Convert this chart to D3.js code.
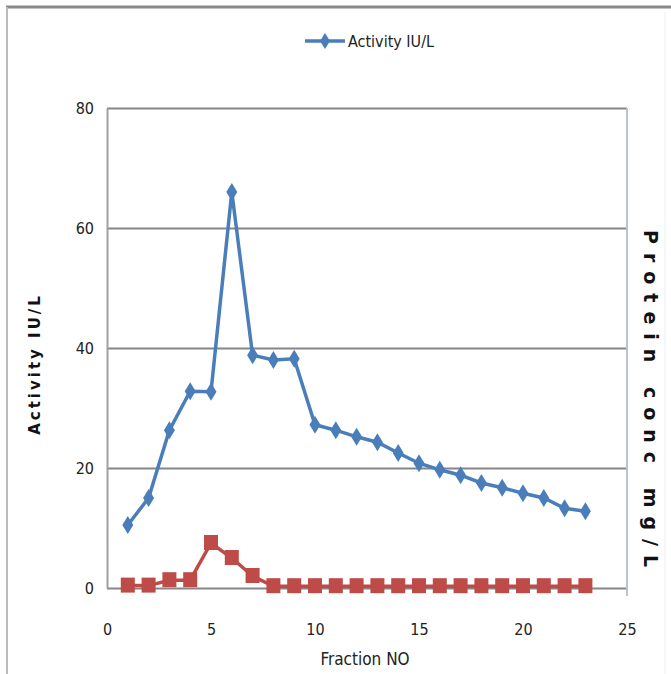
<!DOCTYPE html>
<html>
<head>
    <script src="https://d3js.org/d3.v7.min.js"></script>
    <style>
        body { margin: 0; background: #fff; }
        svg { display: block; }
        .tick text { font-family: "DejaVu Sans Condensed", "Liberation Sans Narrow", sans-serif; font-stretch: condensed; font-size: 16px; fill: #222; }
        .axis-title { font-family: "DejaVu Sans", sans-serif; font-weight: bold; fill: #111; }
        .legend-text, .x-title { font-family: "DejaVu Sans Condensed", "Liberation Sans Narrow", sans-serif; font-stretch: condensed; font-size: 16px; fill: #222; }
    </style>
</head>
<body>
<svg width="671" height="674"></svg>
<script>
    // fraction numbers
    var fractions = [1, 2, 3, 4, 5, 6, 7, 8, 9, 10, 11, 12, 13, 14, 15, 16, 17, 18, 19, 20, 21, 22, 23];
    // Activity IU/L (blue)
    var activity = [10.5, 15, 26.3, 32.8, 32.7, 66, 38.8, 38, 38.2, 27.2, 26.3, 25.2, 24.3, 22.5, 20.8, 19.7, 18.8, 17.5, 16.7, 15.8, 15, 13.3, 12.8];
    // Protein conc (red)
    var protein = [0.4, 0.4, 1.3, 1.3, 7.5, 5, 2, 0.3, 0.3, 0.3, 0.3, 0.3, 0.3, 0.3, 0.3, 0.3, 0.3, 0.3, 0.3, 0.3, 0.3, 0.3, 0.3];
    var xTicks = [0, 5, 10, 15, 20, 25];
    var yTicks = [0, 20, 40, 60, 80];

    var svg = d3.select("svg"),
        margin = {top: 108, right: 44, bottom: 86, left: 107},
        width = 671 - margin.left - margin.right,
        height = 674 - margin.top - margin.bottom;

    // outer frame
    svg.append("line").attr("x1", 6).attr("x2", 671).attr("y1", 7).attr("y2", 7)
        .attr("stroke", "#888").attr("stroke-width", 3);
    svg.append("line").attr("x1", 7).attr("x2", 7).attr("y1", 7).attr("y2", 674)
        .attr("stroke", "#bbb").attr("stroke-width", 2);
    svg.append("line").attr("x1", 665).attr("x2", 665).attr("y1", 12).attr("y2", 674)
        .attr("stroke", "#eee").attr("stroke-width", 1);

    var g = svg.append("g").attr("transform", "translate(" + margin.left + "," + margin.top + ")");

    var x = d3.scaleLinear().domain([0, 25]).range([0, width]);
    var y = d3.scaleLinear().domain([0, 80]).range([height, 0]);

    // gridlines
    g.append("g")
        .call(d3.axisLeft(y).tickValues(yTicks).tickSize(-width).tickFormat(""))
        .call(function(s) { s.select(".domain").remove(); })
        .selectAll("line").attr("stroke", "#868686").attr("stroke-width", 2);

    // right border
    g.append("line").attr("x1", width).attr("x2", width).attr("y1", 0).attr("y2", height + 8)
        .attr("stroke", "#b9c1d3").attr("stroke-width", 2);

    // left axis
    g.append("g")
        .call(d3.axisLeft(y).tickValues(yTicks).tickSize(0).tickPadding(13))
        .call(function(s) { s.select(".domain").attr("stroke", "#a0a0a0").attr("stroke-width", 2); });

    // bottom axis labels
    g.append("g")
        .attr("transform", "translate(0," + height + ")")
        .call(d3.axisBottom(x).tickValues(xTicks).tickSize(0).tickPadding(36))
        .call(function(s) { s.select(".domain").remove(); });

    var line = d3.line()
        .x(function(d, i) { return x(fractions[i]); })
        .y(function(d) { return y(d); });

    // protein series
    g.append("path").datum(protein)
        .attr("fill", "none").attr("stroke", "#be4b48").attr("stroke-width", 3.5)
        .attr("d", line);
    g.selectAll(".sq").data(protein).enter().append("rect")
        .attr("x", function(d, i) { return x(fractions[i]) - 7; })
        .attr("y", function(d) { return y(d) - 8; })
        .attr("width", 14).attr("height", 15)
        .attr("fill", "#be4b48");

    // activity series
    g.append("path").datum(activity)
        .attr("fill", "none").attr("stroke", "#4a7ebb").attr("stroke-width", 3.5)
        .attr("d", line);
    g.selectAll(".dia").data(activity).enter().append("path")
        .attr("transform", function(d, i) { return "translate(" + x(fractions[i]) + "," + y(d) + ")"; })
        .attr("d", "M0,-9L5.5,0L0,9L-5.5,0Z")
        .attr("fill", "#4a7ebb");

    // legend
    svg.append("line").attr("x1", 305).attr("x2", 345).attr("y1", 41).attr("y2", 41)
        .attr("stroke", "#4a7ebb").attr("stroke-width", 3.5);
    svg.append("path").attr("transform", "translate(325,41)")
        .attr("d", "M0,-8L5,0L0,8L-5,0Z").attr("fill", "#4a7ebb");
    svg.append("text").attr("class", "legend-text").attr("x", 348).attr("y", 47).text("Activity IU/L");

    // axis titles
    svg.append("text").attr("class", "x-title").attr("x", 365).attr("y", 665)
        .attr("text-anchor", "middle").style("font-size", "17px").text("Fraction NO");
    svg.append("text").attr("class", "axis-title")
        .attr("transform", "translate(40,364) rotate(-90)")
        .attr("text-anchor", "middle")
        .style("font-size", "15px").style("letter-spacing", "3px")
        .text("Activity IU/L");
    svg.append("text").attr("class", "axis-title")
        .attr("transform", "translate(644,230) rotate(90)")
        .attr("text-anchor", "start")
        .style("font-size", "19px").style("letter-spacing", "9px")
        .text("Protein conc mg/L");
</script>
</body>
</html>
